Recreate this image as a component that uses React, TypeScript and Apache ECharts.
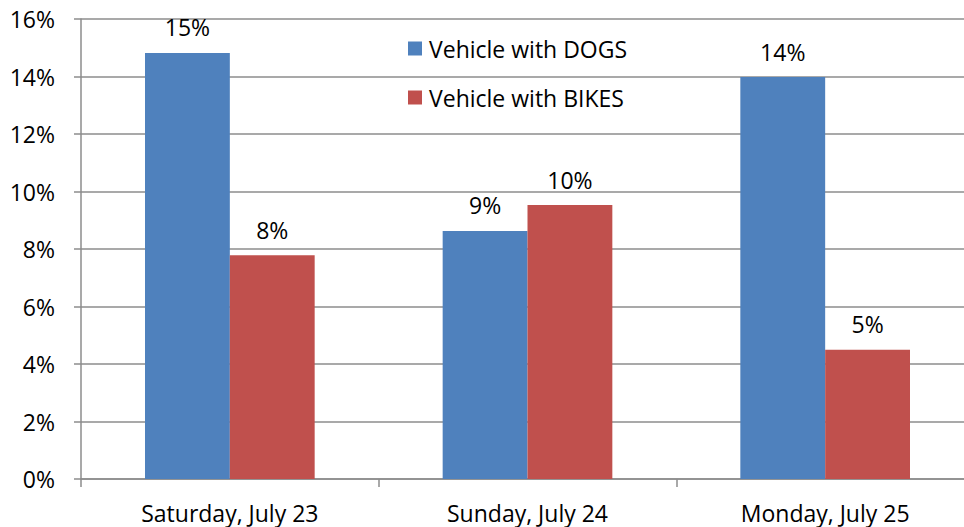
import React, { useEffect, useRef } from "react";
import * as echarts from "echarts";

const categories = ["Saturday, July 23", "Sunday, July 24", "Monday, July 25"];
const dogsValues = [14.82, 8.63, 13.98];
const bikesValues = [7.78, 9.53, 4.5];
const seriesNames = ["Vehicle with DOGS", "Vehicle with BIKES"];
const yTicks = [0, 2, 4, 6, 8, 10, 12, 14, 16];

const FONT = "'Open Sans', 'Liberation Sans', sans-serif";
const FS = 23;

export default function App() {
  const ref = useRef<HTMLDivElement>(null);
  useEffect(() => {
    if (!ref.current) return;
    const chart = echarts.init(ref.current, undefined, { renderer: "svg" });
    const labelCfg = {
      show: true,
      position: "top" as const,
      distance: 14,
      fontFamily: FONT,
      fontSize: FS,
      color: "#000",
      formatter: (p: any) => Math.round(p.value) + "%",
    };
    chart.setOption({
      animation: false,
      backgroundColor: "#fff",
      grid: { left: 81, top: 19, width: 893, height: 460, containLabel: false },
      legend: {
        orient: "vertical",
        left: 403,
        top: 32,
        itemWidth: 14,
        itemHeight: 14,
        itemGap: 26,
        icon: "rect",
        textStyle: { fontFamily: FONT, fontSize: FS, color: "#000", padding: [0, 0, 0, 2] },
        data: seriesNames,
      },
      xAxis: {
        type: "category",
        data: categories,
        axisLine: { lineStyle: { color: "#8c8c8c", width: 1.5 } },
        axisTick: { show: true, length: 8, lineStyle: { color: "#8c8c8c", width: 1.5 } },
        axisLabel: { fontFamily: FONT, fontSize: FS, color: "#000", margin: 22 },
      },
      yAxis: {
        type: "value",
        min: yTicks[0],
        max: yTicks[yTicks.length - 1],
        interval: 2,
        axisLine: { show: true, lineStyle: { color: "#8c8c8c", width: 1.5 } },
        axisTick: { show: true, length: 7, lineStyle: { color: "#8c8c8c", width: 1.5 } },
        splitLine: { show: true, lineStyle: { color: "#8c8c8c", width: 1.5 } },
        axisLabel: {
          fontFamily: FONT,
          fontSize: FS,
          color: "#000",
          margin: 26,
          formatter: (v: number) => v + "%",
        },
      },
      series: [
        {
          name: seriesNames[0],
          type: "bar",
          data: dogsValues,
          itemStyle: { color: "#4F81BD" },
          barWidth: "28.5%",
          barGap: "0%",
          label: labelCfg,
        },
        {
          name: seriesNames[1],
          type: "bar",
          data: bikesValues,
          itemStyle: { color: "#C0504D" },
          barWidth: "28.5%",
          barGap: "0%",
          label: labelCfg,
        },
      ],
    });
    return () => chart.dispose();
  }, []);
  return (
    <div
      style={{
        position: "fixed",
        left: 0,
        top: 0,
        width: 964,
        height: 527,
        overflow: "hidden",
        background: "#fff",
      }}
    >
      <div ref={ref} style={{ width: 990, height: 527 }} />
    </div>
  );
}
